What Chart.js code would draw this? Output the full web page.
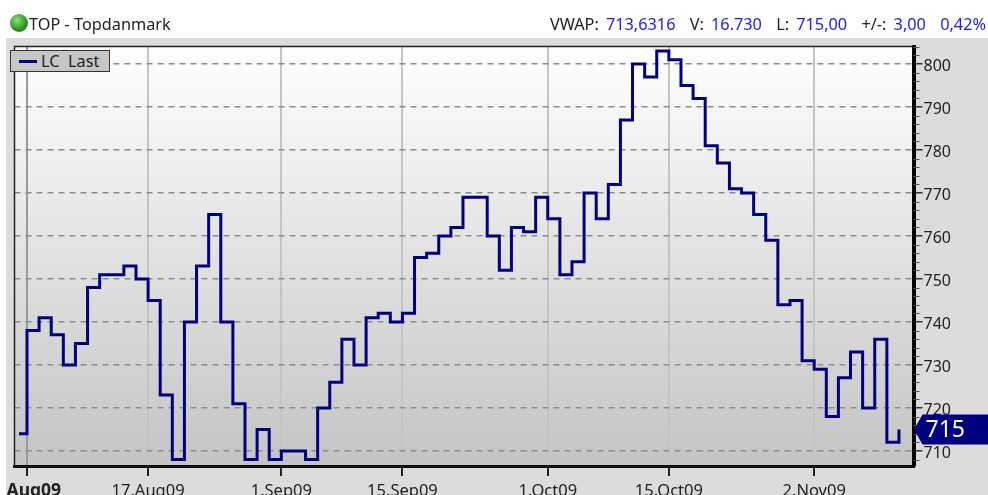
<!DOCTYPE html>
<html lang="da">

<head>
    <meta charset="UTF-8">
    <title>TOP - Topdanmark</title>
    <script src="https://cdn.jsdelivr.net/npm/chart.js"></script>
    <style>
        body { margin: 0; background: #fff; overflow: hidden; font-family: "Noto Sans", sans-serif; }
        #wrap { position: relative; width: 988px; height: 495px; overflow: hidden; }
        canvas { position: absolute; left: 0; top: 0; }
        .head { position: absolute; top: 12px; font-size: 16.3px; line-height: 24px; color: #222; white-space: pre; }
        .head b { font-weight: normal; color: #1c1ce6; }
        #ball { position: absolute; left: 10px; top: 14px; width: 18px; height: 18px; border-radius: 50%;
            background: radial-gradient(circle at 40% 35%, #8fe07a, #2f9a1e 55%, #0f5a0a); }
        #legend { position: absolute; left: 10px; top: 50px; width: 98px; height: 20px; background: #c6c6c6;
            border: 1.5px solid #333; font-size: 16.3px; line-height: 20px; color: #222; white-space: pre; }
        #legend i { position: absolute; left: 8px; top: 9px; width: 18px; height: 3px; background: #000080; }
        #legend span { position: absolute; left: 30px; top: 0; }
    </style>
</head>

<body>
    <div id="wrap">
        <canvas id="chartTop" width="988" height="495"></canvas>
        <div id="ball"></div>
        <div class="head" style="left:29px">TOP - Topdanmark</div>
        <div class="head" style="right:2px; word-spacing:2.9px">VWAP: <b>713,6316</b>  V: <b>16.730</b>  L: <b>715,00</b>  +/-: <b>3,00</b>  <b>0,42%</b></div>
        <div id="legend"><i></i><span>LC  Last</span></div>
    </div>

    <script>
        // Kurs pr. handelsdag (første værdi er før 3. aug)
        const closes = [714,
            738, 741, 737, 730, 735, 748, 751, 751, 753, 750,
            745, 723, 708, 740, 753, 765, 740, 721, 708, 715, 708,
            710, 710, 708, 720, 726, 736, 730, 741, 742, 740,
            742, 755, 756, 760, 762, 769, 769, 760, 752, 762, 761, 769,
            764, 751, 754, 770, 764, 772, 787, 800, 797, 803,
            801, 795, 792, 781, 777, 771, 770, 765, 759, 744, 745, 731,
            729, 718, 727, 733, 720, 736, 712, 715]
        const firstDay = -0.66

        const tickDays = [0, 10, 21, 31, 43, 53, 65]
        const tickLabels = ['\u00a0\u00a0\u00a0Aug09', '17.Aug09', '1.Sep09', '15.Sep09', '1.Oct09', '15.Oct09', '2.Nov09']

        const navy = '#000080'
        const fontName = '"Noto Sans", sans-serif'

        const points = closes.map(function (v, i) {
            return { x: i == 0 ? firstDay : i - 1, y: v }
        })

        // Baggrund, ramme, små ticks og kursmærke
        const chrome = {
            id: 'chrome',
            beforeDraw: function (chart) {
                const ctx = chart.ctx
                const a = chart.chartArea
                ctx.save()
                ctx.fillStyle = '#dcdcdc'
                ctx.fillRect(6, 38, 982, 457)
                const g = ctx.createLinearGradient(0, a.top, 0, a.bottom)
                g.addColorStop(0, '#ffffff')
                g.addColorStop(1, '#c4c4c4')
                ctx.fillStyle = g
                ctx.fillRect(a.left, a.top, a.right - a.left, a.bottom - a.top)
                ctx.restore()
            },
            afterDraw: function (chart) {
                const ctx = chart.ctx
                const a = chart.chartArea
                const y = chart.scales.y
                ctx.save()
                ctx.strokeStyle = '#222'
                ctx.lineWidth = 1.5
                ctx.beginPath()
                ctx.moveTo(a.left, a.bottom)
                ctx.lineTo(a.left, a.top)
                ctx.lineTo(a.right, a.top)
                ctx.stroke()

                ctx.strokeStyle = '#555'
                ctx.lineWidth = 1
                y.ticks.forEach(function (t) {
                    if (t.value % 10 == 0) return
                    const py = Math.round(y.getPixelForValue(t.value)) + 0.5
                    ctx.beginPath()
                    ctx.moveTo(a.right, py)
                    ctx.lineTo(a.right + 6, py)
                    ctx.stroke()
                })

                // kursmærke ved sidste værdi
                const last = closes[closes.length - 1]
                const ly = y.getPixelForValue(last)
                ctx.fillStyle = navy
                ctx.beginPath()
                ctx.moveTo(a.right + 0.5, ly)
                ctx.lineTo(a.right + 9, ly - 15)
                ctx.lineTo(988, ly - 15)
                ctx.lineTo(988, ly + 15)
                ctx.lineTo(a.right + 9, ly + 15)
                ctx.closePath()
                ctx.fill()
                ctx.fillStyle = '#fff'
                ctx.font = '23px ' + fontName
                ctx.textAlign = 'left'
                ctx.textBaseline = 'middle'
                ctx.fillText(String(last), a.right + 12, ly + 1)
                ctx.restore()
            }
        }

        new Chart(document.getElementById('chartTop'), {
            type: 'line',
            data: {
                datasets: [{
                    label: 'LC Last',
                    data: points,
                    borderColor: navy,
                    borderWidth: 3,
                    stepped: true,
                    borderJoinStyle: 'miter',
                    pointRadius: 0
                }]
            },
            options: {
                responsive: false,
                animation: false,
                layout: { padding: { top: 46.5, left: 14.5 } },
                plugins: { legend: { display: false }, tooltip: { enabled: false } },
                scales: {
                    x: {
                        type: 'linear',
                        min: -1.032,
                        max: 73.2,
                        afterBuildTicks: function (scale) {
                            scale.ticks = tickDays.map(function (d) { return { value: d } })
                        },
                        afterFit: function (scale) {
                            scale.height = 29
                            // labels må gerne gå ud over plotområdet
                            scale.paddingLeft = 0
                            scale.paddingRight = 0
                        },
                        grid: {
                            color: function (c) { return c.index == 0 ? '#9a9a9a' : '#c4c4c4' },
                            lineWidth: 2,
                            tickColor: '#222',
                            tickLength: 10
                        },
                        border: { color: '#111', width: 3 },
                        ticks: {
                            autoSkip: false,
                            maxRotation: 0,
                            color: '#222',
                            padding: 5,
                            font: function (c) {
                                return c.index == 0
                                    ? { family: fontName, size: 17.5, weight: 'bold' }
                                    : { family: fontName, size: 16.5, weight: 'normal' }
                            },
                            callback: function (v, i) { return tickLabels[i] }
                        }
                    },
                    y: {
                        position: 'right',
                        min: 706.5,
                        max: 804.07,
                        afterFit: function (scale) {
                            scale.width = 74.5
                            scale.paddingTop = 0
                            scale.paddingBottom = 0
                        },
                        grid: {
                            color: function (c) { return c.tick.value % 10 == 0 ? '#8c8c8c' : 'transparent' },
                            tickColor: function (c) { return c.tick.value % 10 == 0 ? '#333' : 'transparent' },
                            lineWidth: 1.5,
                            tickLength: 9,
                            tickBorderDash: []
                        },
                        border: { color: '#000', width: 4, dash: [6, 5] },
                        ticks: {
                            stepSize: 2,
                            includeBounds: false,
                            autoSkip: false,
                            color: '#222',
                            padding: 1,
                            labelOffset: 2,
                            font: { family: fontName, size: 16 },
                            callback: function (v) { return v % 10 == 0 ? v : '' }
                        }
                    }
                }
            },
            plugins: [chrome]
        })
    </script>
</body>

</html>
